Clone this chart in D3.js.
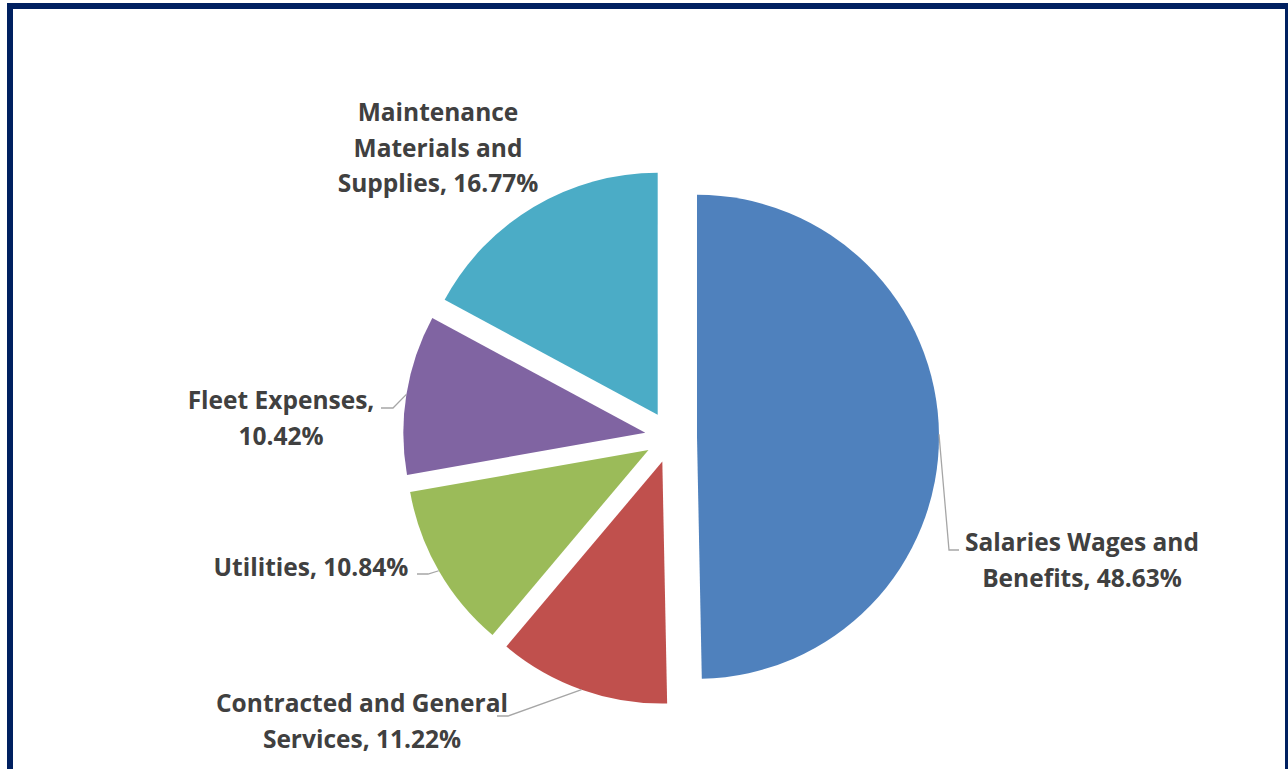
<!DOCTYPE html>
<html>
<head>
<meta charset="utf-8">
<script src="https://cdn.jsdelivr.net/npm/d3@7"></script>
<style>
  html, body { margin: 0; padding: 0; background: #ffffff; overflow: hidden; }
  svg { display: block; }
</style>
</head>
<body>
<svg id="chart" width="1288" height="769"></svg>
<script>
// Expense categories, in the order they run clockwise from 12 o'clock
const categories = [
  "Salaries Wages and Benefits",
  "Contracted and General Services",
  "Utilities",
  "Fleet Expenses",
  "Maintenance Materials and Supplies"
];
// Share of expenses (percent)
const shares = [48.63, 11.22, 10.84, 10.42, 16.77];
// Label text, split into lines as displayed
const labelLines = [
  ["Salaries Wages and", "Benefits, 48.63%"],
  ["Contracted and General", "Services, 11.22%"],
  ["Utilities, 10.84%"],
  ["Fleet Expenses,", "10.42%"],
  ["Maintenance", "Materials and", "Supplies, 16.77%"]
];
const colors = ["#4F81BD", "#C0504D", "#9BBB59", "#8064A2", "#4BACC6"];

// Label layout: elbow of the leader line, its end next to the text,
// and the label block's centre / first baseline.
const labelLayout = [
  { elbow: [949, 550], end: [959, 550], cx: 1082, y0: 551 },
  { elbow: [508, 716], end: [497, 716], cx: 362, y0: 712 },
  { elbow: [428, 574], end: [417, 574], cx: 311, y0: 576 },
  { elbow: [393, 408], end: [381, 408], cx: 281, y0: 409 },
  { elbow: null, end: null, cx: 438, y0: 121 }
];

const svg = d3.select("#chart");

// Frame
svg.append("rect")
  .attr("x", 10).attr("y", 6)
  .attr("width", 1278).attr("height", 800)
  .attr("fill", "none")
  .attr("stroke", "#002060")
  .attr("stroke-width", 6);

const cx = 671, cy = 437, R = 242, explode = 26;

const pie = d3.pie().sort(null).value(d => d)(shares);
const arc = d3.arc().innerRadius(0).outerRadius(R);

const g = svg.append("g").attr("transform", `translate(${cx},${cy})`);

function dir(d) {
  const a = (d.startAngle + d.endAngle) / 2;
  return [Math.sin(a), -Math.cos(a)];
}

g.selectAll("path.slice")
  .data(pie)
  .join("path")
  .attr("class", "slice")
  .attr("d", arc)
  .attr("fill", (d, i) => colors[i])
  .attr("transform", d => {
    const [ux, uy] = dir(d);
    return `translate(${ux * explode},${uy * explode})`;
  });

// Leader lines: from the outer edge at the slice bisector to the label
pie.forEach((d, i) => {
  const L = labelLayout[i];
  if (!L.elbow) return;
  const [ux, uy] = dir(d);
  const sx = cx + ux * (explode + R), sy = cy + uy * (explode + R);
  svg.append("polyline")
    .attr("points", [[sx, sy], L.elbow, L.end].map(p => p.join(",")).join(" "))
    .attr("fill", "none")
    .attr("stroke", "#A6A6A6")
    .attr("stroke-width", 1.3);
});

// Labels
const lineH = 35.5;
labelLines.forEach((lines, i) => {
  const L = labelLayout[i];
  const t = svg.append("text")
    .attr("text-anchor", "middle")
    .attr("font-family", "'Open Sans', Lato, sans-serif")
    .attr("font-weight", "bold")
    .attr("font-size", 24.5)
    .attr("fill", "#404040");
  lines.forEach((s, k) => {
    t.append("tspan").attr("x", L.cx).attr("y", L.y0 + k * lineH).text(s);
  });
});
</script>
</body>
</html>
